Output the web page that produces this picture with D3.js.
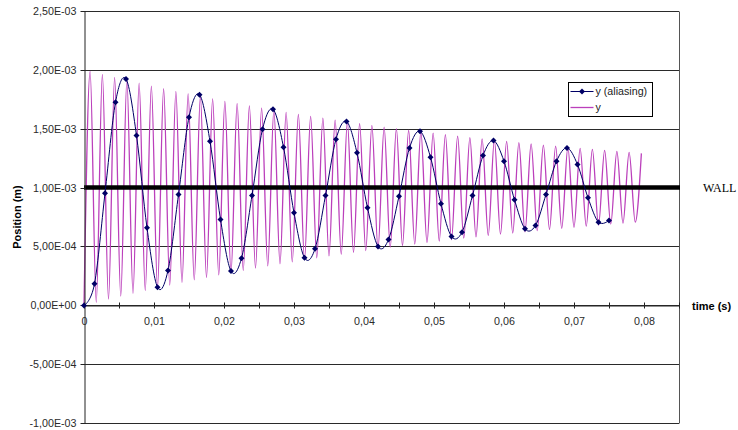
<!DOCTYPE html>
<html>
<head>
<meta charset="utf-8">
<script src="https://cdn.jsdelivr.net/npm/d3@7"></script>
<style>
  html, body { margin: 0; padding: 0; background: #fff; }
  svg { display: block; font-family: "Liberation Sans", Arial, sans-serif; }
  .axis text { font-size: 10.7px; fill: #2a2a2a; }
  .axis path, .axis line { stroke: #222; }
</style>
</head>
<body>
<div id="chart"></div>
<script>
// Values are in units of 1E-03 m

// y (aliasing): sampled series, one point every 0.0015 s
const aliasTime = [
  0, 0.0015, 0.003, 0.0045, 0.006, 0.0075, 0.009, 0.0105, 0.012, 0.0135,
  0.015, 0.0165, 0.018, 0.0195, 0.021, 0.0225, 0.024, 0.0255, 0.027, 0.0285,
  0.03, 0.0315, 0.033, 0.0345, 0.036, 0.0375, 0.039, 0.0405, 0.042, 0.0435,
  0.045, 0.0465, 0.048, 0.0495, 0.051, 0.0525, 0.054, 0.0555, 0.057, 0.0585,
  0.06, 0.0615, 0.063, 0.0645, 0.066, 0.0675, 0.069, 0.0705, 0.072, 0.0735,
  0.075,
];
const aliasValue = [
  0, 0.184, 0.952, 1.723, 1.921, 1.441, 0.658, 0.155, 0.297, 0.941,
  1.596, 1.788, 1.392, 0.729, 0.291, 0.401, 0.932, 1.494, 1.664, 1.342,
  0.785, 0.404, 0.48, 0.932, 1.41, 1.56, 1.294, 0.828, 0.5, 0.559,
  0.926, 1.336, 1.477, 1.257, 0.862, 0.585, 0.621, 0.932, 1.271, 1.398,
  1.223, 0.896, 0.65, 0.678, 0.941, 1.223, 1.336, 1.195, 0.913, 0.706,
  0.72,
];

// y: fast oscillation, read as its successive troughs and peaks
const yTime = [
  0, 0.000875, 0.00175, 0.002625, 0.0035, 0.004375, 0.00525, 0.006125, 0.007, 0.007875,
  0.00875, 0.009625, 0.0105, 0.011375, 0.01225, 0.013125, 0.014, 0.014875, 0.01575, 0.016625,
  0.0175, 0.018375, 0.01925, 0.020125, 0.021, 0.021875, 0.02275, 0.023625, 0.0245, 0.025375,
  0.02625, 0.027125, 0.028, 0.028875, 0.02975, 0.030625, 0.0315, 0.032375, 0.03325, 0.034125,
  0.035, 0.035875, 0.03675, 0.037625, 0.0385, 0.039375, 0.04025, 0.041125, 0.042, 0.042875,
  0.04375, 0.044625, 0.0455, 0.046375, 0.04725, 0.048125, 0.049, 0.049875, 0.05075, 0.051625,
  0.0525, 0.053375, 0.05425, 0.055125, 0.056, 0.056875, 0.05775, 0.058625, 0.0595, 0.060375,
  0.06125, 0.062125, 0.063, 0.063875, 0.06475, 0.065625, 0.0665, 0.067375, 0.06825, 0.069125,
  0.07, 0.070875, 0.07175, 0.072625, 0.0735, 0.074375, 0.07525, 0.076125, 0.077, 0.077875,
  0.07875, 0.079625,
];
const yValue = [
  0, 1.986, 0.027, 1.96, 0.053, 1.934, 0.078, 1.909, 0.103, 1.885,
  0.127, 1.861, 0.151, 1.838, 0.173, 1.815, 0.196, 1.794, 0.217, 1.772,
  0.238, 1.752, 0.259, 1.731, 0.279, 1.712, 0.298, 1.693, 0.317, 1.674,
  0.335, 1.656, 0.353, 1.638, 0.37, 1.621, 0.387, 1.604, 0.404, 1.588,
  0.42, 1.572, 0.435, 1.557, 0.451, 1.542, 0.465, 1.528, 0.48, 1.513,
  0.494, 1.5, 0.507, 1.486, 0.52, 1.473, 0.533, 1.461, 0.546, 1.448,
  0.558, 1.436, 0.57, 1.424, 0.581, 1.413, 0.593, 1.402, 0.604, 1.391,
  0.614, 1.381, 0.625, 1.37, 0.635, 1.36, 0.644, 1.351, 0.654, 1.341,
  0.663, 1.332, 0.672, 1.323, 0.681, 1.315, 0.69, 1.306, 0.698, 1.298,
  0.706, 1.29,
];

const wallValue = 1;

// Axis ticks
const yTicks = [-1, -0.5, 0, 0.5, 1, 1.5, 2, 2.5];
const yTickLabels = ['-1,00E-03', '-5,00E-04', '0,00E+00', '5,00E-04',
  '1,00E-03', '1,50E-03', '2,00E-03', '2,50E-03'];
const xTicks = [0, 0.005, 0.01, 0.015, 0.02, 0.025, 0.03, 0.035, 0.04,
  0.045, 0.05, 0.055, 0.06, 0.065, 0.07, 0.075, 0.08, 0.085];
const xTickLabels = ['0', '', '0,01', '', '0,02', '', '0,03', '', '0,04',
  '', '0,05', '', '0,06', '', '0,07', '', '0,08', ''];

const seriesNames = ['y (aliasing)', 'y'];

// Sizes
const WIDTH = 738;
const HEIGHT = 430;
const LEFT = 84;
const RIGHT = 679;
const TOP = 10.7;
const BOTTOM = 423.3;

const ALIAS_COLOR = '#000066';
const Y_COLOR = '#bb3fbb';

const x = d3.scaleLinear([0, 0.085], [LEFT, RIGHT]);
const y = d3.scaleLinear([-1, 2.5], [BOTTOM, TOP]);

const svg = d3.select('#chart')
  .append('svg')
  .attr('width', WIDTH)
  .attr('height', HEIGHT);

// Gridlines
svg.append('g')
  .selectAll('line')
  .data(yTicks)
  .enter()
  .append('line')
  .attr('x1', LEFT)
  .attr('x2', RIGHT)
  .attr('y1', (d) => Math.round(y(d)) + 0.5)
  .attr('y2', (d) => Math.round(y(d)) + 0.5)
  .attr('stroke', '#2a2a2a')
  .attr('stroke-width', 1);

// Right border of plot area
svg.append('line')
  .attr('x1', RIGHT + 0.5)
  .attr('x2', RIGHT + 0.5)
  .attr('y1', Math.round(TOP) + 0.5)
  .attr('y2', Math.round(BOTTOM) + 0.5)
  .attr('stroke', '#555');

// y series
const yPoints = yTime.map((t, i) => [t, yValue[i]]);
svg.append('path')
  .datum(yPoints)
  .attr('fill', 'none')
  .attr('stroke', Y_COLOR)
  .attr('stroke-width', 1.3)
  .attr('d', d3.line().x((d) => x(d[0])).y((d) => y(d[1])).curve(d3.curveMonotoneX));

// Wall line
svg.append('line')
  .attr('x1', x(0))
  .attr('x2', RIGHT + 1)
  .attr('y1', y(wallValue))
  .attr('y2', y(wallValue))
  .attr('stroke', '#000')
  .attr('stroke-width', 4.5);

// Y axis
const yAxis = d3.axisLeft(y)
  .tickValues(yTicks)
  .tickFormat((d, i) => yTickLabels[i])
  .tickSizeInner(4)
  .tickSizeOuter(0)
  .tickPadding(4);

svg.append('g')
  .attr('class', 'axis')
  .attr('transform', `translate(${LEFT + 0.5}, 0)`)
  .call(yAxis)
  .call((g) => g.selectAll('.tick').attr('transform', (d) => `translate(0,${Math.round(y(d)) + 0.5})`));

// X axis, crossing at zero
const xAxis = d3.axisBottom(x)
  .tickValues(xTicks)
  .tickFormat((d, i) => xTickLabels[i])
  .tickSizeInner(3)
  .tickSizeOuter(0)
  .tickPadding(9);

svg.append('g')
  .attr('class', 'axis')
  .attr('transform', `translate(0, ${Math.round(y(0)) + 0.5})`)
  .call(xAxis)
  .call((g) => g.selectAll('.tick line').attr('y1', -3).attr('y2', 3));

// y (aliasing) series
const aliasPoints = aliasTime.map((t, i) => [t, aliasValue[i]]);
svg.append('path')
  .datum(aliasPoints)
  .attr('fill', 'none')
  .attr('stroke', ALIAS_COLOR)
  .attr('stroke-width', 1)
  .attr('d', d3.line().x((d) => x(d[0])).y((d) => y(d[1])).curve(d3.curveCardinal.tension(0)));

const diamond = 'M0,-3L3,0L0,3L-3,0Z';
svg.append('g')
  .selectAll('path')
  .data(aliasPoints)
  .enter()
  .append('path')
  .attr('d', diamond)
  .attr('transform', (d) => `translate(${x(d[0])},${y(d[1])})`)
  .attr('fill', ALIAS_COLOR);

// Axis titles and wall label
svg.append('text')
  .attr('transform', `translate(21, ${(TOP + BOTTOM) / 2}) rotate(-90)`)
  .attr('text-anchor', 'middle')
  .attr('font-size', 11)
  .attr('font-weight', 'bold')
  .text('Position (m)');

svg.append('text')
  .attr('x', 692)
  .attr('y', 310)
  .attr('font-size', 11)
  .attr('font-weight', 'bold')
  .text('time (s)');

svg.append('text')
  .attr('x', 703)
  .attr('y', 192)
  .attr('font-family', '"Liberation Serif", "Times New Roman", serif')
  .attr('font-size', 12)
  .text('WALL');

// Legend
const legend = svg.append('g').attr('transform', 'translate(568.5, 82.5)');
legend.append('rect')
  .attr('width', 84)
  .attr('height', 34)
  .attr('fill', '#fff')
  .attr('stroke', '#000');

const legendRows = legend.selectAll('g.row')
  .data(seriesNames)
  .enter()
  .append('g')
  .attr('class', 'row')
  .attr('transform', (d, i) => `translate(0, ${9 + i * 16})`);

legendRows.append('line')
  .attr('x1', 2)
  .attr('x2', 25)
  .attr('stroke', (d, i) => (i === 0 ? ALIAS_COLOR : Y_COLOR))
  .attr('stroke-width', (d, i) => (i === 0 ? 1 : 1.3));

legendRows.filter((d, i) => i === 0)
  .append('path')
  .attr('d', diamond)
  .attr('transform', 'translate(13.5, 0)')
  .attr('fill', ALIAS_COLOR);

legendRows.append('text')
  .attr('x', 27)
  .attr('dy', '0.35em')
  .attr('font-size', 10.7)
  .attr('fill', '#222')
  .text((d) => d);
</script>
</body>
</html>
